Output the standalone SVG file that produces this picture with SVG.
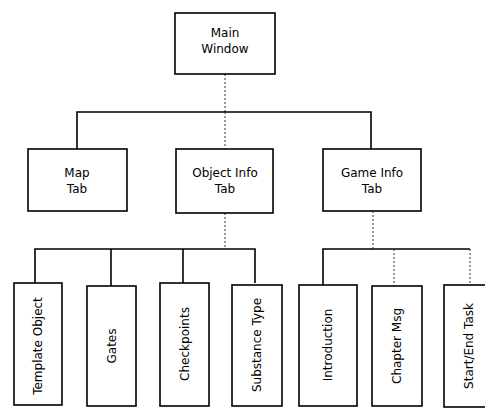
<svg xmlns="http://www.w3.org/2000/svg" width="485" height="408" viewBox="0 0 485 408">
<style>
.box{fill:#fff;stroke:#000;stroke-width:1.6}
.lbl{font-family:"DejaVu Sans",Verdana,sans-serif;font-size:12px;fill:#000;text-anchor:middle}
.ln{fill:none;stroke:#000;stroke-width:1.6}
.dot{fill:none;stroke:#333;stroke-width:1;stroke-dasharray:2,2}
</style>
<rect width="485" height="408" fill="#fff"/>
<g id="connectors">
<line class="dot" x1="225" y1="74" x2="225" y2="112"/>
<polyline class="ln" points="77,149 77,112 371,112 371,149"/>
<line class="dot" x1="225" y1="112" x2="225" y2="149"/>
<line class="dot" x1="225" y1="213" x2="225" y2="249"/>
<polyline class="ln" points="35,283 35,249 255,249 255,283"/>
<line class="ln" x1="111" y1="249" x2="111" y2="286"/>
<line class="ln" x1="183" y1="249" x2="183" y2="283"/>
<line class="dot" x1="373" y1="211" x2="373" y2="249"/>
<polyline class="ln" points="323,285 323,249 470,249"/>
<line class="dot" x1="394" y1="249" x2="394" y2="286"/>
<line class="dot" x1="470" y1="249" x2="470" y2="285"/>
</g>
<g id="main-window">
<rect class="box" x="175" y="13" width="100" height="61"/>
<text class="lbl" x="225" y="37">Main</text>
<text class="lbl" x="225" y="53">Window</text>
</g>
<g id="map-tab">
<rect class="box" x="28" y="149" width="99" height="62"/>
<text class="lbl" x="77" y="177">Map</text>
<text class="lbl" x="77" y="193">Tab</text>
</g>
<g id="object-info-tab">
<rect class="box" x="176" y="149" width="97" height="64"/>
<text class="lbl" x="225" y="177">Object Info</text>
<text class="lbl" x="225" y="193">Tab</text>
</g>
<g id="game-info-tab">
<rect class="box" x="323" y="149" width="98" height="62"/>
<text class="lbl" x="372" y="177">Game Info</text>
<text class="lbl" x="372" y="193">Tab</text>
</g>
<g id="template-object">
<rect class="box" x="14" y="283" width="48" height="122"/>
<text class="lbl" transform="translate(42,346) rotate(-90)">Template Object</text>
</g>
<g id="gates">
<rect class="box" x="87" y="286" width="49" height="120"/>
<text class="lbl" transform="translate(116,346) rotate(-90)">Gates</text>
</g>
<g id="checkpoints">
<rect class="box" x="160" y="283" width="49" height="123"/>
<text class="lbl" transform="translate(189,344) rotate(-90)">Checkpoints</text>
</g>
<g id="substance-type">
<rect class="box" x="232" y="285" width="50" height="121"/>
<text class="lbl" transform="translate(261,345) rotate(-90)">Substance Type</text>
</g>
<g id="introduction">
<rect class="box" x="299" y="285" width="58" height="121"/>
<text class="lbl" transform="translate(332,345) rotate(-90)">Introduction</text>
</g>
<g id="chapter-msg">
<rect class="box" x="372" y="286" width="50" height="120"/>
<text class="lbl" transform="translate(401,346) rotate(-90)">Chapter Msg</text>
</g>
<g id="start-end-task">
<rect class="box" x="444" y="285" width="50" height="122"/>
<text class="lbl" transform="translate(473,346) rotate(-90)">Start/End Task</text>
</g>
</svg>
